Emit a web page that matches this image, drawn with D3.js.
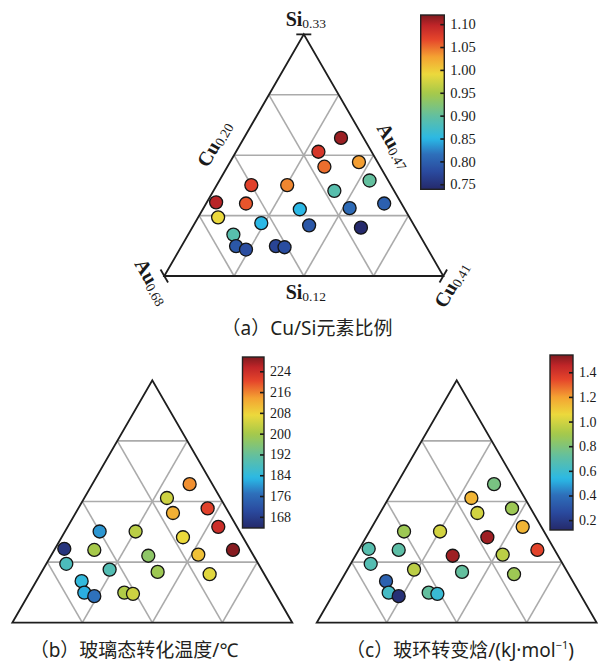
<!DOCTYPE html>
<html>
<head>
<meta charset="utf-8">
<script src="https://cdn.jsdelivr.net/npm/d3@7/dist/d3.min.js"></script>
<style>
  body { margin: 0; background: #fff; }
  svg { display: block; }
</style>
</head>
<body>
<svg id="fig" width="598" height="662"></svg>
<script>
// Au–Cu–Si alloy compositions (at.%) — Au is the balance
const siPct = [24.0, 22.8, 21.5, 21.9, 20.3, 19.4, 18.3, 17.9, 16.2, 19.9, 17.8,
               16.4, 19.9, 18.3, 18.4, 17.1, 16.6, 15.6, 14.6, 14.3, 14.6, 14.5];
const cuPct = [27.3, 26.2, 27.3, 29.7, 31.3, 29.1, 33.4, 31.0, 32.7, 25.3, 27.3,
               28.7, 22.6, 23.0, 20.7, 21.5, 25.0, 23.4, 24.1, 25.0, 27.1, 27.8];

// Measured properties of each alloy
const cuSiRatio = [1.11, 1.08, 1.05, 1.03, 0.90, 0.89, 0.80, 0.81, 0.74, 1.04, 0.85,
                   0.79, 1.07, 1.06, 1.10, 0.99, 0.85, 0.89, 0.79, 0.78, 0.77, 0.78];
const tgC = [215, 204, 212, 221, 224, 207, 229, 210, 206, 202, 197,
             199, 180, 200, 166, 188, 189, 184, 182, 177, 201, 204];
const dHg = [0.78, 1.15, 1.00, 0.88, 1.15, 1.50, 1.35, 0.95, 0.88, 1.00, 1.50,
             0.72, 0.88, 0.70, 0.68, 0.67, 0.95, 0.35, 0.62, 0.15, 0.72, 0.58];

// Colour-bar ticks
const ratioTicks = [0.75, 0.80, 0.85, 0.90, 0.95, 1.00, 1.05, 1.10];
const tgTicks = [168, 176, 184, 192, 200, 208, 216, 224];
const dhTicks = [0.2, 0.4, 0.6, 0.8, 1.0, 1.2, 1.4];

// Composition window of the ternary section
const siRange = [12, 33], cuRange = [20, 41], auRange = [47, 68];

// Jet-like colour map
const cmapPos = [0, 0.10, 0.20, 0.29, 0.42, 0.55, 0.66, 0.76, 0.86, 0.94, 1];
const cmapCol = ["#25296b", "#2a4a9e", "#2e6fba", "#2ab8e6", "#62bfa0", "#a5c94a",
                 "#ecd93c", "#f4a232", "#e5452b", "#c02528", "#7f1a1f"];
const cmap = d3.scaleLinear().domain(cmapPos).range(cmapCol).interpolate(d3.interpolateRgb).clamp(true);

const svg = d3.select("#fig");
const defs = svg.append("defs");
const serif = "'Liberation Serif', 'Times New Roman', serif";
const sans = "'Noto Sans', 'Noto Sans CJK SC', sans-serif";

const rows = siPct.map((s, i) => ({ si: s, cu: cuPct[i], ratio: cuSiRatio[i], tg: tgC[i], dh: dHg[i] }));

function ternary(g, cx, baseY, side, values, domain, showLabels) {
  const h = side * Math.sqrt(3) / 2;
  const left = cx - side / 2;
  const fSi = d3.scaleLinear().domain(siRange).range([0, 1]);
  const fCu = d3.scaleLinear().domain(cuRange).range([0, 1]);
  // barycentric (Si fraction, Cu fraction) -> screen
  const px = (s, c) => left + side * (c + s / 2);
  const py = s => baseY - h * s;

  const grid = g.append("g").attr("stroke", "#ababab").attr("stroke-width", 1.6).attr("fill", "none");
  [0.25, 0.5, 0.75].forEach(f => {
    // constant Si
    grid.append("line").attr("x1", px(f, 0)).attr("y1", py(f)).attr("x2", px(f, 1 - f)).attr("y2", py(f));
    // constant Cu
    grid.append("line").attr("x1", px(0, f)).attr("y1", py(0)).attr("x2", px(1 - f, f)).attr("y2", py(1 - f));
    // constant Au
    grid.append("line").attr("x1", px(0, 1 - f)).attr("y1", py(0)).attr("x2", px(1 - f, 0)).attr("y2", py(1 - f));
  });

  g.append("path")
    .attr("d", `M${px(0, 0)},${py(0)}L${px(1, 0)},${py(1)}L${px(0, 1)},${py(0)}Z`)
    .attr("fill", "none").attr("stroke", "#1e1e1e").attr("stroke-width", 1.8).attr("stroke-linejoin", "miter");

  const color = d3.scaleLinear().domain(domain).range([0, 1]);
  g.append("g").selectAll("circle").data(rows).join("circle")
    .attr("cx", d => px(fSi(d.si), fCu(d.cu)))
    .attr("cy", d => py(fSi(d.si)))
    .attr("r", 6.5)
    .attr("fill", d => cmap(color(values(d))))
    .attr("stroke", "#151515").attr("stroke-width", 1.3);

  if (!showLabels) return;

  // end ticks at the three corners
  const tk = g.append("g").attr("stroke", "#1e1e1e").attr("stroke-width", 1.8);
  const L = 7.5, c60 = 0.5, s60 = Math.sqrt(3) / 2;
  tk.append("line").attr("x1", px(1, 0) - L).attr("y1", py(1)).attr("x2", px(1, 0) + L).attr("y2", py(1));
  tk.append("line").attr("x1", px(0, 0) - L * c60).attr("y1", py(0) - L * s60).attr("x2", px(0, 0) + L * c60).attr("y2", py(0) + L * s60);
  tk.append("line").attr("x1", px(0, 1) + L * c60).attr("y1", py(0) - L * s60).attr("x2", px(0, 1) - L * c60).attr("y2", py(0) + L * s60);

  const label = (x, y, rot, main, sub) => {
    const t = g.append("text")
      .attr("transform", `translate(${x},${y}) rotate(${rot})`)
      .attr("text-anchor", "middle").attr("fill", "#1a1a1a").attr("font-family", serif);
    t.append("tspan").attr("font-size", 20).attr("font-weight", "bold").text(main);
    t.append("tspan").attr("font-size", 13.5).attr("dy", 2).text(sub);
  };
  const apexX = px(1, 0), apexY = py(1);
  label(apexX + 2, apexY - 8, 0, "Si", (siRange[1] / 100).toFixed(2));
  label(cx + 2, baseY + 23, 0, "Si", (siRange[0] / 100).toFixed(2));
  // side midpoints, offset outward
  const midLx = (px(0, 0) + apexX) / 2, midY = (py(0) + apexY) / 2;
  const midRx = (px(0, 1) + apexX) / 2;
  label(midLx - 14, midY - 8, -60, "Cu", (cuRange[0] / 100).toFixed(2));
  label(midRx + 15, midY - 6, 60, "Au", (auRange[0] / 100).toFixed(2));
  label(px(0, 0) - 18, py(0) + 9, 60, "Au", (auRange[1] / 100).toFixed(2));
  label(px(0, 1) + 14, py(0) + 12, -60, "Cu", (cuRange[1] / 100).toFixed(2));
}

function colorbar(g, id, x, y0, y1, w, domain, ticks, fmt, fs) {
  const grad = defs.append("linearGradient").attr("id", id)
    .attr("x1", 0).attr("y1", 1).attr("x2", 0).attr("y2", 0);
  d3.range(0, 1.0001, 0.02).forEach(t => grad.append("stop").attr("offset", t).attr("stop-color", cmap(t)));
  g.append("rect").attr("x", x).attr("y", y0).attr("width", w).attr("height", y1 - y0)
    .attr("fill", `url(#${id})`).attr("stroke", "#222").attr("stroke-width", 1.4);
  const s = d3.scaleLinear().domain(domain).range([y1, y0]);
  const ax = g.append("g").attr("transform", `translate(${x + w},0)`)
    .call(d3.axisRight(s).tickValues(ticks).tickFormat(fmt).tickSize(-4).tickPadding(6));
  ax.attr("font-family", serif);
  ax.select(".domain").remove();
  ax.selectAll(".tick line").attr("stroke", "#1a1a1a").attr("stroke-width", 1.6);
  ax.selectAll(".tick text").attr("font-family", serif).attr("font-size", fs).attr("fill", "#1a1a1a");
}

// (a) Cu/Si ratio
const ga = svg.append("g");
const domA = [0.739, 1.12];
ternary(ga, 303.8, 276, 279, d => d.ratio, domA, true);
colorbar(ga, "cbA", 420.7, 15, 189.3, 23.6, domA, ratioTicks, d3.format(".2f"), 14.5);

// (b) glass transition temperature
const gb = svg.append("g");
const domB = [163.7, 229.5];
ternary(gb, 152.3, 622.7, 280, d => d.tg, domB, false);
colorbar(gb, "cbB", 242.5, 357, 528, 21.5, domB, tgTicks, d3.format("d"), 14);

// (c) glass transition enthalpy
const gc = svg.append("g");
const domC = [0.12, 1.54];
ternary(gc, 456.7, 622.7, 280, d => d.dh, domC, false);
colorbar(gc, "cbC", 550, 355, 530, 23, domC, dhTicks, d3.format(".1f"), 14);

// captions
const cap = (x, y) => svg.append("text").attr("x", x).attr("y", y).attr("text-anchor", "middle")
  .attr("font-family", sans).attr("font-size", 19).attr("fill", "#231f20");
cap(307, 335).text("（a）Cu/Si元素比例");
cap(134, 657).text("（b）玻璃态转化温度/℃");
const tc = cap(460, 657);
tc.append("tspan").text("（c）玻环转变焓/(kJ·mol");
tc.append("tspan").attr("font-size", 11).attr("dy", -8).text("−1");
tc.append("tspan").attr("dy", 8).text(")");
</script>
</body>
</html>
